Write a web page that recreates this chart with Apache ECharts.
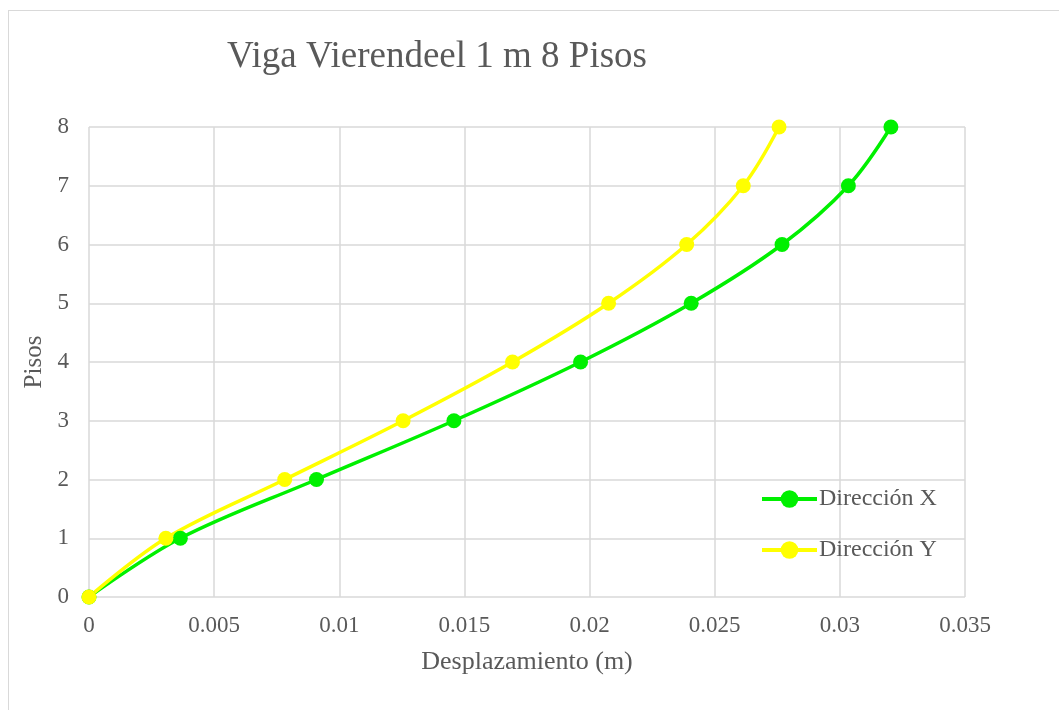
<!DOCTYPE html>
<html><head><meta charset="utf-8">
<script src="https://cdn.jsdelivr.net/npm/echarts@6/dist/echarts.min.js"></script>
<style>html,body{margin:0;padding:0;background:#fff;overflow:hidden;}#frame{position:absolute;left:8px;top:10px;width:1100px;height:750px;border:1px solid #d9d9d9;box-sizing:border-box;}#c{position:absolute;left:0;top:0;width:1059px;height:710px;}</style>
</head><body><div id="frame"></div><div id="c"></div>
<script>
const pisos = [0, 1, 2, 3, 4, 5, 6, 7, 8];
const dirX = [0, 0.00365, 0.00909, 0.01458, 0.01964, 0.02406, 0.02769, 0.03034, 0.03204];
const dirY = [0, 0.00307, 0.00782, 0.01255, 0.01692, 0.02076, 0.02388, 0.02614, 0.02757];
const seriesNames = ['Dirección X', 'Dirección Y'];
const colors = ['#00f000', '#ffff00'];
const font = '"Liberation Serif", "Times New Roman", serif';
const txt = '#595959';
const chart = echarts.init(document.getElementById('c'));
function mk(name, xs, color) {
  return {
    name: name, type: 'line', smooth: 0.35,
    data: xs.map((x, i) => [x, pisos[i]]),
    symbol: 'circle', symbolSize: 15,
    itemStyle: { color: color },
    lineStyle: { color: color, width: 3.5 }
  };
}
chart.setOption({
  animation: false,
  title: { text: 'Viga Vierendeel 1 m 8 Pisos', left: 432, top: 34, textAlign: 'center',
    textStyle: { fontFamily: font, fontSize: 37, fontWeight: 'normal', color: txt } },
  legend: { orient: 'vertical', left: 755, top: 482, itemGap: 27, itemWidth: 55, itemHeight: 22,
    lineStyle: { width: 4 },
    textStyle: { fontFamily: font, fontSize: 24, color: txt, padding: [0,0,0,-3] },
    data: seriesNames },
  grid: { left: 89, right: 94, top: 127, bottom: 113, containLabel: false },
  xAxis: { type: 'value', min: 0, max: 0.035, interval: 0.005,
    name: 'Desplazamiento (m)', nameLocation: 'middle', nameGap: 52,
    nameTextStyle: { fontFamily: font, fontSize: 26, color: txt },
    axisLine: { show: false }, axisTick: { show: false },
    axisLabel: { fontFamily: font, fontSize: 23, color: txt, margin: 17, formatter: v => String(+v.toFixed(3)) },
    splitLine: { show: true, lineStyle: { color: '#d9d9d9', width: 1.5 } } },
  yAxis: { type: 'value', min: 0, max: 8, interval: 1,
    name: 'Pisos', nameLocation: 'middle', nameGap: 42,
    nameTextStyle: { fontFamily: font, fontSize: 25, color: txt },
    axisLine: { show: false }, axisTick: { show: false },
    axisLabel: { fontFamily: font, fontSize: 23, color: txt, margin: 20 },
    splitLine: { show: true, lineStyle: { color: '#d9d9d9', width: 1.5 } } },
  series: [mk(seriesNames[0], dirX, colors[0]), mk(seriesNames[1], dirY, colors[1])]
});
</script></body></html>
